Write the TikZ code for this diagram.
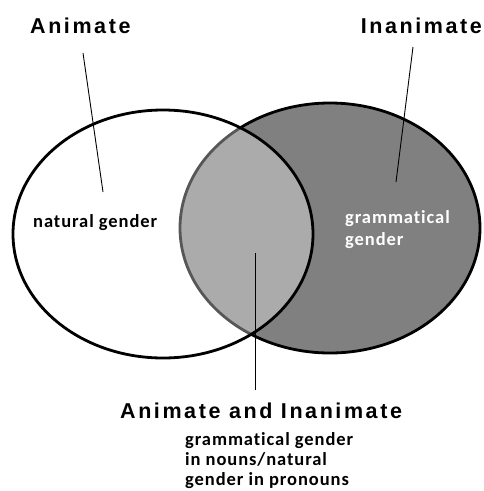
\documentclass[tikz,border=0pt]{standalone}
\usepackage{fontspec}
\newfontfamily\headfont[LetterSpace=12]{Liberation Sans}
\newfontfamily\bodyfont[LetterSpace=5,Ligatures={NoCommon}]{Carlito}
\begin{document}
\begin{tikzpicture}[x=1pt,y=-1pt,
  head/.style={font=\headfont\bfseries\fontsize{21.5}{24}\selectfont, inner sep=0pt},
  body/.style={font=\bodyfont\bfseries\fontsize{18.5}{20}\selectfont, inner sep=0pt, align=left},
  leader/.style={draw=black, line width=0.9pt},
  outline/.style={line width=2.8pt}]
\useasboundingbox (0,0) rectangle (484,491);
% right ellipse (dark)
\path[fill={rgb,255:red,128;green,128;blue,128}, draw=black, outline] (330,228) ellipse [x radius=150, y radius=125];
% left ellipse (white, semi-transparent)
\path[fill=white, fill opacity=0.34, draw=black, outline] (163,234) ellipse [x radius=150, y radius=124];
% labels
\node[head, anchor=base west] (anim) at (30,33) {Animate};
\node[head, anchor=base east] (inanim) at (482,33) {Inanimate};
\node[head, anchor=base west] (both) at (120,418) {Animate and Inanimate};
\node[body, anchor=base west] (nat) at (33,227.3) {natural gender};
\node[body, text=white, anchor=base west, font=\bodyfont\bfseries\fontsize{18.5}{22}\selectfont] (gram) at (345,245) {grammatical\\gender};
\node[body, anchor=base west] (mix) at (185,485.7) {grammatical gender\\in nouns/natural\\gender in pronouns};
% leader lines
\coordinate (a1) at (83,53);
\coordinate (a2) at (103,192);
\coordinate (i1) at (413,47);
\coordinate (i2) at (396,182);
\coordinate (m1) at (255,253);
\coordinate (m2) at (255,390);
\draw[leader] (a1) -- (a2);
\draw[leader] (i1) -- (i2);
\draw[leader] (m1) -- (m2);
\end{tikzpicture}
\end{document}
